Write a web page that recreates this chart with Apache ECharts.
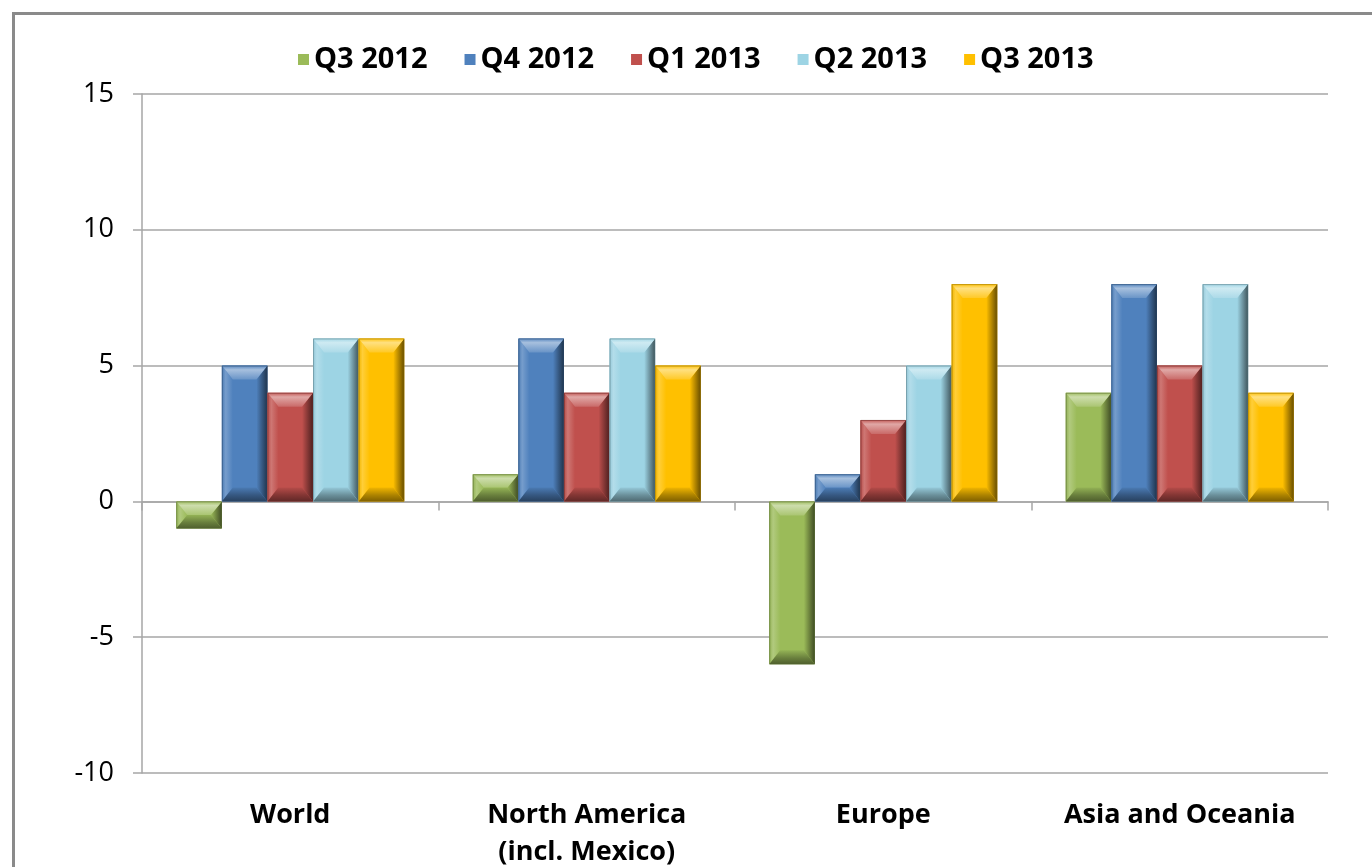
<!DOCTYPE html>
<html>
<head>
<meta charset="utf-8">
<script src="https://cdn.jsdelivr.net/npm/echarts@6/dist/echarts.min.js"></script>
<style>
html,body{margin:0;padding:0;background:#fff;}
#chart{width:1372px;height:867px;}
</style>
</head>
<body>
<div id="chart"></div>
<script>
// ---- data ----
const categories = ['World', 'North America\n(incl. Mexico)', 'Europe', 'Asia and Oceania'];
const seriesNames = ['Q3 2012', 'Q4 2012', 'Q1 2013', 'Q2 2013', 'Q3 2013'];
const q3_2012 = [-1, 1, -6, 4];
const q4_2012 = [5, 6, 1, 8];
const q1_2013 = [4, 4, 3, 5];
const q2_2013 = [6, 6, 5, 8];
const q3_2013 = [6, 5, 8, 4];
const seriesValues = [q3_2012, q4_2012, q1_2013, q2_2013, q3_2013];
const seriesColors = ['#9bbb59', '#4f81bd', '#c0504d', '#9dd4e4', '#ffc000'];

// ---- helpers ----
function hexToRgb(h){h=h.replace('#','');return [parseInt(h.substr(0,2),16),parseInt(h.substr(2,2),16),parseInt(h.substr(4,2),16)];}
function mix(hex, target, t){
  const c = hexToRgb(hex), d = target === 'w' ? [255,255,255] : [0,0,0];
  const r = c.map((v,i)=>Math.round(v + (d[i]-v)*t));
  return 'rgb(' + r.join(',') + ')';
}
function lg(x0,y0,x1,y1,stops){return new echarts.graphic.LinearGradient(x0,y0,x1,y1,stops.map(s=>({offset:s[0],color:s[1]})));}

const GROUP_FRAC = 0.769;

function makeRender(sIdx){
  const base = seriesColors[sIdx];
  return function(params, api){
    const cat = api.value(0), val = api.value(1);
    const band = api.size([1, 0])[0];
    const w = band * GROUP_FRAC / seriesNames.length;
    const p0 = api.coord([cat, 0]);
    const p1 = api.coord([cat, val]);
    const x = p0[0] - band * GROUP_FRAC / 2 + sIdx * w;
    const top = Math.min(p0[1], p1[1]);
    const h = Math.abs(p1[1] - p0[1]);
    const bx = Math.min(11, w / 2);
    const by = Math.min(14, h / 2);
    const r = x + w, b = top + h;
    return {
      type: 'group',
      children: [
        {type:'rect', shape:{x:x, y:top, width:w, height:h}, style:{fill:base}},
        // left
        {type:'polygon', shape:{points:[[x,top],[x+bx,top+by],[x+bx,b-by],[x,b]]},
          style:{fill: lg(0,0,1,0,[[0,mix(base,'k',0.05)],[0.35,mix(base,'w',0.22)],[1,base]])}},
        // right
        {type:'polygon', shape:{points:[[r,top],[r-bx,top+by],[r-bx,b-by],[r,b]]},
          style:{fill: lg(0,0,1,0,[[0,base],[0.5,mix(base,'k',0.3)],[1,mix(base,'k',0.6)]])}},
        // top
        {type:'polygon', shape:{points:[[x,top],[r,top],[r-bx,top+by],[x+bx,top+by]]},
          style:{fill: lg(0,0,0,1,[[0,mix(base,'w',0.05)],[0.3,mix(base,'w',0.5)],[1,mix(base,'w',0.15)]])}},
        // bottom
        {type:'polygon', shape:{points:[[x,b],[r,b],[r-bx,b-by],[x+bx,b-by]]},
          style:{fill: lg(0,0,0,1,[[0,mix(base,'k',0.05)],[0.55,mix(base,'k',0.32)],[1,mix(base,'k',0.5)]])}},
        {type:'rect', shape:{x:x+0.5, y:top+0.5, width:w-1, height:h-1}, style:{fill:'none', stroke:mix(base,'k',0.45), lineWidth:1, opacity:0.5}}
      ]
    };
  };
}

const series = seriesNames.map((name, i) => ({
  name: name,
  type: 'custom',
  xAxisIndex: 0,
  yAxisIndex: 0,
  itemStyle: {color: seriesColors[i]},
  encode: {x: 0, y: 1},
  data: seriesValues[i].map((v, c) => [c, v]),
  renderItem: makeRender(i),
  clip: false
}));

const chart = echarts.init(document.getElementById('chart'), null, {renderer: 'canvas'});
const FONT = 'Open Sans';
chart.setOption({
  animation: false,
  backgroundColor: '#fff',
  textStyle: {fontFamily: FONT},
  graphic: [{
    type: 'rect', left: 11, top: 11, z: -1,
    shape: {x: 0, y: 0, width: 1400, height: 900},
    style: {fill: 'none', stroke: '#8a8a8a', lineWidth: 3}
  }],
  legend: {
    data: seriesNames,
    left: 293, top: 40,
    icon: 'rect',
    itemWidth: 11, itemHeight: 11,
    itemGap: 37,
    textStyle: {fontSize: 29, fontWeight: 'bold', color: '#000', fontFamily: FONT}
  },
  grid: {left: 142, right: 44, top: 94, bottom: 94, containLabel: false, outerBoundsMode: 'none'},
  xAxis: [
    {
      type: 'category', data: categories, position: 'bottom',
      axisLine: {show: true, onZero: true, lineStyle: {color: '#a6a6a6', width: 1.5}},
      axisTick: {show: true, length: 9, lineStyle: {color: '#a6a6a6', width: 1.5}},
      axisLabel: {show: false},
      splitLine: {show: false}
    },
    {
      type: 'category', data: categories, position: 'bottom',
      axisLine: {show: false, onZero: false},
      axisTick: {show: false},
      axisLabel: {show: true, margin: 24, fontSize: 27, fontWeight: 'bold', color: '#000', lineHeight: 37, fontFamily: FONT, interval: 0},
      splitLine: {show: false}
    }
  ],
  yAxis: {
    type: 'value', min: -10, max: 15, interval: 5,
    axisLine: {show: true, lineStyle: {color: '#a6a6a6', width: 1.5}},
    axisTick: {show: true, length: 9, lineStyle: {color: '#a6a6a6', width: 1.5}},
    axisLabel: {fontSize: 27, color: '#000', margin: 28, fontFamily: FONT},
    splitLine: {show: true, lineStyle: {color: '#a6a6a6', width: 1.5}}
  },
  series: series
});
</script>
</body>
</html>
